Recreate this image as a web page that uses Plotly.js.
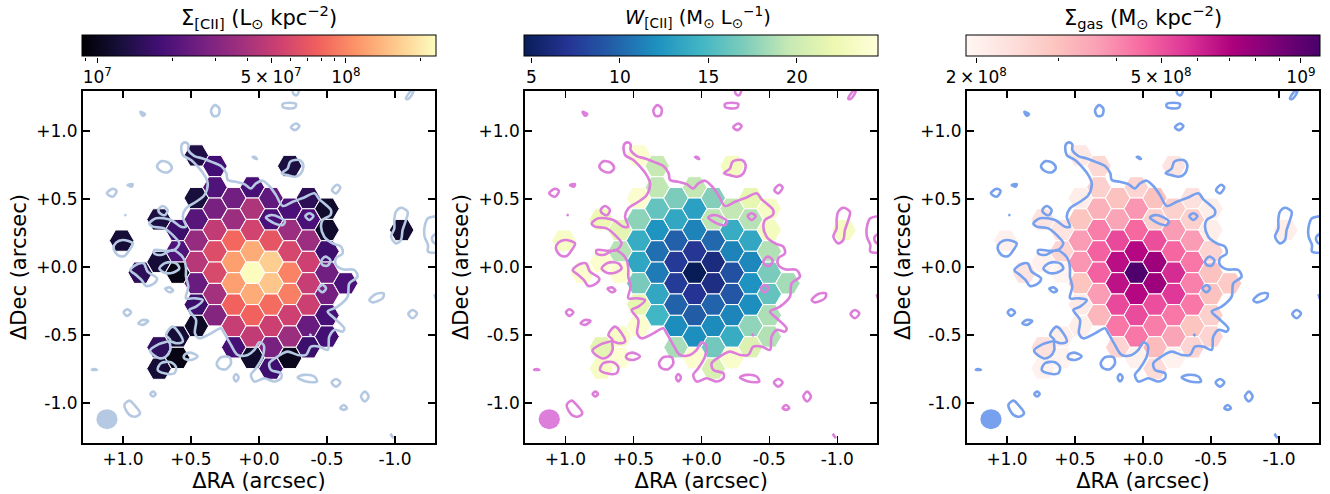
<!DOCTYPE html>
<html>
<head>
<meta charset="utf-8">
<script src="https://cdn.plot.ly/plotly-3.0.1.min.js"></script>
<style>html,body{margin:0;padding:0;background:#fff}</style>
</head>
<body>
<div id="chart" style="width:1330px;height:494px"></div>
<script>
// Hexagonal cell centres (arcsec)
const cellRA = [1.010,0.873,
 0.735,0.735,0.735,0.735,
 0.598,0.598,0.598,0.598,0.598,
 0.461,0.461,0.461,0.461,0.461,0.461,0.461,0.461,
 0.324,0.324,0.324,0.324,0.324,0.324,0.324,0.324,
 0.186,0.186,0.186,0.186,0.186,0.186,0.186,0.186,
 0.049,0.049,0.049,0.049,0.049,0.049,0.049,0.049,0.049,
 -0.088,-0.088,-0.088,-0.088,-0.088,-0.088,-0.088,-0.088,-0.088,
 -0.226,-0.226,-0.226,-0.226,-0.226,-0.226,-0.226,-0.226,-0.226,
 -0.363,-0.363,-0.363,-0.363,-0.363,-0.363,-0.363,-0.363,
 -0.500,-0.500,-0.500,-0.500,-0.500,-0.500,-0.500,
 -0.637,-1.049];
const cellDec = [0.194,-0.042,
 0.350,0.037,-0.591,-0.748,
 0.272,0.115,-0.042,-0.512,-0.669,
 0.821,0.507,0.350,0.194,0.037,-0.120,-0.277,-0.434,
 0.743,0.586,0.429,0.272,0.115,-0.042,-0.199,-0.355,
 0.507,0.350,0.194,0.037,-0.120,-0.277,-0.434,-0.591,
 0.586,0.429,0.272,0.115,-0.042,-0.199,-0.355,-0.512,-0.669,
 0.507,0.350,0.194,0.037,-0.120,-0.277,-0.434,-0.591,-0.748,
 0.743,0.429,0.272,0.115,-0.042,-0.199,-0.355,-0.512,-0.669,
 0.507,0.350,0.194,0.037,-0.120,-0.277,-0.434,-0.591,
 0.429,0.272,0.115,-0.042,-0.199,-0.355,-0.512,
 -0.120,0.272];
// Sigma_[CII] (Lsun/kpc2)
const sigmaCII = [1.2e7,1.47e7,
 1.29e7,1.2e7,1.52e7,1.2e7,
 1.67e7,1.97e7,9.6e6,1.2e7,9.6e6,
 1.33e7,1.25e7,2.1e7,3.45e7,4.47e7,2.4e7,1.67e7,1.09e7,
 1.78e7,1.97e7,2.73e7,4.9e7,6.2e7,6.0e7,3.9e7,3.0e7,
 2.56e7,3.67e7,8.1e7,1.18e8,1.18e8,7.8e7,5.1e7,1.84e7,
 1.84e7,4.19e7,5.6e7,1.3e8,2.28e8,1.3e8,7.8e7,4.9e7,1.13e7,
 2.25e7,1.9e7,6.85e7,1.65e8,1.55e8,8.4e7,5.3e7,2.73e7,1.73e7,
 1.29e7,1.9e7,3.67e7,5.8e7,9.8e7,9.5e7,5.4e7,3.67e7,1.02e7,
 1.47e7,1.9e7,3.67e7,5.4e7,5.1e7,5.3e7,2.4e7,1.67e7,
 1.13e7,1.13e7,1.73e7,2.56e7,2.65e7,1.84e7,1.78e7,
 1.9e7,1.16e7];
// W_[CII] (Msun/Lsun)
const wCII = [23.5,24,
 22.3,24,21.5,23.5,
 21.5,19,24,23.5,24.3,
 24,24,17.6,13.9,13.5,16.8,21.7,24,
 19.6,19.4,16,12.3,10.5,11,13.6,14.6,
 17,13.6,9.7,7.4,7.6,9.8,11.9,18.5,
 19.5,13.1,11.4,7.2,4.6,7.1,9.5,12,24,
 17.3,19.3,10.1,6.2,6.4,9.9,11.8,16.6,20.8,
 23,19.5,13.9,11.4,8.8,9.1,11.5,13.9,23.8,
 21.7,19,13.6,11.6,12.2,12,17.7,21,
 23.4,23,18.9,16.9,16,18.7,18.9,
 18.4,23.3];
// Sigma_gas (Msun/kpc2)
const sigmaGas = [2.03e8,2.28e8,
 2.28e8,2.0e8,2.35e8,2.0e8,
 2.28e8,2.56e8,1.95e8,2.07e8,1.97e8,
 2.2e8,2.1e8,2.95e8,3.7e8,3.8e8,2.95e8,2.15e8,2.07e8,
 2.5e8,2.7e8,3.3e8,4.2e8,4.7e8,4.7e8,3.7e8,3.2e8,
 3.0e8,3.55e8,5.2e8,6.7e8,6.6e8,5.2e8,4.3e8,2.6e8,
 2.6e8,3.8e8,4.57e8,6.9e8,1.07e9,6.9e8,5.15e8,4.3e8,2.03e8,
 3.0e8,2.7e8,5.07e8,7.6e8,7.6e8,5.1e8,4.2e8,3.1e8,2.45e8,
 2.28e8,2.7e8,3.7e8,4.6e8,5.9e8,5.6e8,4.3e8,3.55e8,2.0e8,
 2.35e8,2.7e8,3.7e8,4.3e8,4.15e8,4.3e8,2.95e8,2.6e8,
 2.07e8,2.07e8,2.6e8,3.0e8,3.0e8,2.7e8,2.6e8,
 2.8e8,2.07e8];
// Contour of the [CII] line emission, loops separated by null
const contourRA = [
 0.569,0.544,0.520,0.520,0.475,0.414,0.353,0.279,0.240,0.230,0.169,0.108,0.059,0.022,-0.027,-0.076,-0.125,-0.174,-0.248,-0.333,-0.407,-0.444,-0.493,-0.529,-0.525,-0.468,-0.456,-0.480,-0.542,-0.603,-0.615,-0.566,-0.566,-0.615,-0.701,-0.725,-0.664,-0.652,-0.578,-0.505,-0.554,-0.627,-0.615,-0.554,-0.517,-0.505,-0.444,-0.382,-0.346,-0.284,-0.211,-0.137,-0.076,-0.088,-0.162,-0.162,-0.113,-0.039,0.034,0.059,0.022,-0.027,-0.034,-0.002,0.034,0.083,0.157,0.206,0.255,0.279,0.353,0.439,0.471,0.463,0.512,0.463,0.414,0.475,0.537,0.520,0.537,0.537,0.549,0.574,0.635,0.721,0.770,0.770,0.684,0.623,0.586,0.623,0.696,0.782,0.806,0.757,0.647,0.574,0.537,0.561,0.537,0.463,0.402,0.377,0.402,0.439,0.500,0.561,0.569,null,
 0.873,0.838,0.855,0.873,null,
 0.324,0.292,0.299,0.333,0.353,0.324,null,
 -0.174,-0.223,-0.272,-0.265,-0.211,-0.174,-0.174,null,
 -0.243,-0.255,-0.279,-0.301,null,
 -1.081,-1.105,-1.142,-1.123,-1.093,-1.081,null,
 -0.235,-0.272,-0.297,-0.265,-0.235,null,
 0.750,0.716,0.659,0.642,0.672,0.725,0.750,null,
 0.966,0.929,0.936,0.966,null,
 1.118,1.076,1.047,1.076,1.118,null,
 -0.537,-0.574,-0.598,-0.566,-0.537,null,
 0.990,0.975,null,
 0.047,0.015,0.030,0.047,null,
 -0.167,-0.211,-0.230,-0.297,-0.326,-0.309,-0.265,-0.211,-0.167,null,
 0.740,0.708,0.672,0.691,0.721,0.740,null,
 -0.341,-0.370,-0.400,-0.370,-0.341,null,
 -0.051,-0.088,-0.150,-0.191,-0.174,-0.113,-0.051,null,
 -0.995,-1.007,-1.044,-1.093,-1.081,-1.056,-1.044,-1.007,-0.971,-0.995,-0.995,null,
 -1.316,-1.243,-1.218,-1.218,-1.243,-1.243,-1.316,null,
 -1.316,-1.275,-1.279,-1.316,null,
 1.069,1.051,1.002,0.929,0.953,0.990,1.039,1.069,null,
 0.946,0.892,0.848,0.819,0.750,0.770,0.831,0.863,0.904,0.946,null,
 0.733,0.684,0.610,0.586,0.635,0.696,0.733,null,
 -0.456,-0.485,-0.525,-0.505,-0.468,-0.456,null,
 0.689,0.659,0.632,0.659,0.689,null,
 -0.436,-0.468,-0.493,-0.468,-0.436,null,
 -0.811,-0.860,-0.917,-0.909,-0.836,-0.811,null,
 0.995,0.971,0.941,0.971,0.995,null,
 0.887,0.855,0.814,0.855,0.887,null,
 -1.098,-1.130,-1.162,-1.130,-1.098,null,
 0.801,0.733,0.652,0.684,0.635,0.586,0.561,0.610,0.652,0.652,0.684,0.733,0.801,null,
 0.549,0.505,0.451,0.500,0.549,0.549,null,
 0.745,0.721,0.647,0.610,0.623,0.696,0.745,null,
 0.311,0.279,0.218,0.206,0.243,0.292,0.311,null,
 0.186,0.169,0.150,0.169,0.186,null,
 -0.284,-0.333,-0.407,-0.426,-0.346,-0.284,null,
 -0.534,-0.566,-0.598,-0.566,-0.534,null,
 -0.750,-0.779,-0.806,-0.779,-0.750,null,
 -0.598,-0.623,-0.647,-0.623,-0.598,null,
 1.230,1.191,1.210,1.230,null,
 0.799,0.779,0.760,0.779,0.799,null,
 0.990,0.953,0.917,0.875,0.904,0.953,0.990,null,
 -0.966,-0.990,-0.975,-0.966,null,
 -0.370,-0.387,null,
 -1.290,-1.300
];
const contourDec = [
 0.897,0.917,0.902,0.860,0.816,0.799,0.775,0.743,0.689,0.640,0.627,0.610,0.578,0.615,0.635,0.596,0.529,0.449,0.480,0.512,0.542,0.498,0.456,0.419,0.382,0.346,0.297,0.223,0.174,0.150,0.100,0.064,0.015,-0.017,-0.022,-0.071,-0.120,-0.218,-0.292,-0.328,-0.377,-0.451,-0.475,-0.463,-0.512,-0.610,-0.586,-0.586,-0.647,-0.647,-0.623,-0.659,-0.708,-0.757,-0.782,-0.819,-0.843,-0.819,-0.843,-0.794,-0.745,-0.659,-0.574,-0.554,-0.610,-0.647,-0.647,-0.574,-0.488,-0.451,-0.488,-0.525,-0.488,-0.390,-0.316,-0.292,-0.243,-0.230,-0.230,-0.145,-0.071,-0.010,0.051,0.088,0.125,0.088,0.100,0.125,0.120,0.125,0.174,0.223,0.284,0.297,0.321,0.358,0.346,0.297,0.297,0.370,0.431,0.480,0.529,0.615,0.676,0.725,0.787,0.824,0.897,null,
 1.142,1.125,1.113,1.142,null,
 1.191,1.167,1.118,1.110,1.150,1.191,null,
 1.199,1.208,1.199,1.174,1.167,1.179,1.199,null,
 1.320,1.272,1.265,1.320,null,
 1.240,1.282,1.320,1.265,1.235,1.240,null,
 1.027,1.056,1.037,1.007,1.027,null,
 0.743,0.779,0.762,0.725,0.696,0.708,0.743,null,
 0.603,0.610,0.591,0.603,null,
 0.542,0.576,0.559,0.517,0.542,null,
 0.566,0.605,0.586,0.542,0.566,null,
 0.385,0.380,null,
 0.809,0.794,0.810,0.809,null,
 0.689,0.725,0.775,0.787,0.750,0.689,0.664,0.676,0.689,null,
 0.419,0.449,0.419,0.382,0.390,0.419,null,
 0.375,0.395,0.375,0.346,0.375,null,
 0.365,0.382,0.365,0.333,0.309,0.321,0.365,null,
 0.346,0.407,0.436,0.407,0.346,0.272,0.199,0.174,0.223,0.284,0.346,null,
 0.375,0.358,0.297,0.223,0.162,0.113,0.105,null,
 0.252,0.223,0.186,0.162,null,
 0.137,0.179,0.199,0.174,0.125,0.081,0.088,0.137,null,
 -0.022,0.022,0.027,-0.034,-0.083,-0.120,-0.140,-0.096,-0.059,-0.022,null,
 -0.010,0.032,0.027,-0.010,-0.042,-0.042,-0.010,null,
 0.039,0.076,0.051,0.010,0.015,0.039,null,
 -0.159,-0.150,-0.174,-0.186,-0.159,null,
 -0.157,-0.132,-0.157,-0.186,-0.157,null,
 -0.243,-0.199,-0.194,-0.230,-0.260,-0.243,null,
 -0.333,-0.311,-0.333,-0.360,-0.333,null,
 -0.414,-0.390,-0.397,-0.426,-0.414,null,
 -0.346,-0.316,-0.341,-0.377,-0.346,null,
 -0.615,-0.566,-0.537,-0.500,-0.439,-0.488,-0.549,-0.561,-0.549,-0.610,-0.659,-0.672,-0.615,null,
 -0.647,-0.630,-0.659,-0.684,-0.672,-0.647,null,
 -0.757,-0.708,-0.701,-0.738,-0.782,-0.782,-0.757,null,
 -0.708,-0.664,-0.664,-0.708,-0.752,-0.745,-0.708,null,
 -0.814,-0.787,-0.814,-0.843,-0.814,null,
 -0.811,-0.794,-0.806,-0.843,-0.843,-0.811,null,
 -0.850,-0.824,-0.850,-0.880,-0.850,null,
 -0.953,-0.917,-0.953,-0.990,-0.953,null,
 -1.039,-1.015,-1.039,-1.051,-1.039,null,
 -0.757,-0.757,-0.750,-0.757,null,
 -0.934,-0.917,-0.934,-0.953,-0.934,null,
 -1.015,-0.983,-1.015,-1.076,-1.100,-1.088,-1.015,null,
 -1.228,-1.260,-1.240,-1.228,null,
 -0.493,-0.507,null,
 -0.200,-0.235
];
// Axis ticks
const posTicks = [1,0.5,0,-0.5,-1];
const raLabels = ['+1.0','+0.5','+0.0','-0.5','-1.0'];
const decLabels = ['+1.0','+0.5','+0.0','-0.5','-1.0'];
// Colour bar ticks
const cb1Ticks = [1e7,5e7,1e8];
const cb1Labels = ['10<sup>7</sup>','5\u2009×\u200910<sup>7</sup>','10<sup>8</sup>'];
const cb1Minor = [9e6,2e7,3e7,4e7,6e7,7e7,8e7,9e7,2e8];
const cb2Ticks = [5,10,15,20];
const cb2Labels = ['5','10','15','20'];
const cb3Ticks = [2e8,5e8,1e9];
const cb3Labels = ['2\u2009×\u200910<sup>8</sup>','5\u2009×\u200910<sup>8</sup>','10<sup>9</sup>'];
const cb3Minor = [3e8,4e8,6e8,7e8,8e8,9e8];
// Colour scales
const magma = [[0,'#000004'],[0.111,'#180f3d'],[0.222,'#440f76'],[0.333,'#721f81'],[0.444,'#9e2f7f'],[0.556,'#cd4071'],[0.667,'#f1605d'],[0.778,'#fd9668'],[0.889,'#feca8d'],[1,'#fcfdbf']];
const ylgnbuR = [[0,'#081d58'],[0.125,'#253494'],[0.25,'#225ea8'],[0.375,'#1d91c0'],[0.5,'#41b6c4'],[0.625,'#7fcdbb'],[0.75,'#c7e9b4'],[0.875,'#edf8b1'],[1,'#ffffd9']];
const rdpu = [[0,'#fff7f3'],[0.125,'#fde0dd'],[0.25,'#fcc5c0'],[0.375,'#fa9fb5'],[0.5,'#f768a1'],[0.625,'#dd3497'],[0.75,'#ae017e'],[0.875,'#7a0177'],[1,'#49006a']];
const titles = ['Σ<sub>[CII]</sub> (L<sub>⊙</sub> kpc<sup>−2</sup>)','<i>W</i><sub>[CII]</sub> (M<sub>⊙</sub> L<sub>⊙</sub><sup>−1</sup>)','Σ<sub>gas</sub> (M<sub>⊙</sub> kpc<sup>−2</sup>)'];
const titleCentres = [258.5,698.5,1143];
const titleSizes = [21,19.5,21];
const contourColors = ['#b6c9e2','#de7edb','#77a1ee'];

const W = 1330, H = 494, FONT = 'DejaVu Sans';
const cbLeft = [82,524.3,966], cbWidth = 354;
const panelLeft = [82.9,525.2,966.9], panelWidth = 352.2;
const plotTop = 91, plotBot = 443, cbTop = 36, cbBot = 57;
const posLimit = 1.295;
const cRanges = [[6.9385,8.362],[4.6,24.6],[8.2789,9.041]];
const colorVals = [sigmaCII.map(Math.log10), wCII, sigmaGas.map(Math.log10)];
const scales = [magma,ylgnbuR,rdpu];
const cbAxes = [
 {type:'log',tickvals:cb1Ticks,ticktext:cb1Labels,minor:{tickmode:'array',tickvals:cb1Minor,ticks:'outside',ticklen:3,tickwidth:1,tickcolor:'#000'}},
 {type:'linear',tickvals:cb2Ticks,ticktext:cb2Labels},
 {type:'log',tickvals:cb3Ticks,ticktext:cb3Labels,minor:{tickmode:'array',tickvals:cb3Minor,ticks:'outside',ticklen:3,tickwidth:1,tickcolor:'#000'}}
];

const traces = [], layout = {
  width:W,height:H,margin:{l:0,r:0,t:0,b:0},paper_bgcolor:'#fff',plot_bgcolor:'#fff',
  font:{family:FONT,color:'#000',size:15},showlegend:false,shapes:[],annotations:[]
};
for (let i=0;i<3;i++){
  const n = i+1, xa = 'x'+n, ya = 'y'+n;
  const d0 = panelLeft[i]/W, d1 = (panelLeft[i]+panelWidth)/W;
  const c0 = cbLeft[i]/W, c1 = (cbLeft[i]+cbWidth)/W;
  traces.push({type:'scatter',mode:'markers',x:cellRA,y:cellDec,xaxis:xa,yaxis:ya,hoverinfo:'skip',
    marker:{symbol:'hexagon2',size:24.6,color:colorVals[i],colorscale:scales[i],cmin:cRanges[i][0],cmax:cRanges[i][1],
      line:{color:'#fff',width:1},
      showscale:true,
      colorbar:{orientation:'h',x:c0,xanchor:'left',y:1-cbBot/H,yanchor:'bottom',len:cbWidth,lenmode:'pixels',thickness:cbBot-cbTop,thicknessmode:'pixels',
        xpad:0,ypad:0,ticks:'',showticklabels:false,outlinecolor:'#000',outlinewidth:1,borderwidth:0}}});
  traces.push({type:'scatter',mode:'lines',x:contourRA,y:contourDec,xaxis:xa,yaxis:ya,hoverinfo:'skip',
    line:{color:contourColors[i],width:2.6,shape:'spline',smoothing:0.9}});
  layout['xaxis'+n] = {domain:[d0,d1],range:[posLimit,-posLimit],tickmode:'array',tickvals:posTicks,ticktext:raLabels,ticks:'inside',ticklen:7,tickwidth:1.5,tickcolor:'#000',
    showline:true,linecolor:'#000',linewidth:2,mirror:'ticks',showgrid:false,zeroline:false,tickfont:{family:FONT,size:17,color:'#000'},
    title:{text:'ΔRA (arcsec)',font:{family:FONT,size:21,color:'#000'},standoff:3},anchor:ya};
  layout['yaxis'+n] = {domain:[1-plotBot/H,1-plotTop/H],range:[-posLimit,posLimit],tickmode:'array',tickvals:posTicks,ticktext:decLabels,ticks:'inside',ticklen:7,tickwidth:1.5,tickcolor:'#000',
    showline:true,linecolor:'#000',linewidth:2,mirror:'ticks',showgrid:false,zeroline:false,tickfont:{family:FONT,size:17,color:'#000'},
    title:{text:'ΔDec (arcsec)',font:{family:FONT,size:21,color:'#000'},standoff:4},anchor:xa};
  // beam
  layout.shapes.push({type:'circle',xref:xa,yref:ya,x0:1.196,x1:1.040,y0:-1.194,y1:-1.046,fillcolor:contourColors[i],line:{width:0},layer:'above'});
  // colour bar axis (ticks and labels under the bar)
  const m = i+4, cxa='x'+m, cya='y'+m;
  const cb = cbAxes[i];
  traces.push({type:'scatter',mode:'markers',x:cb.tickvals,y:cb.tickvals.map(()=>0.5),xaxis:cxa,yaxis:cya,hoverinfo:'skip',marker:{opacity:0,size:1}});
  layout['xaxis'+m] = Object.assign({domain:[c0,c1],range:cRanges[i],tickmode:'array',ticks:'outside',ticklen:5,tickwidth:1,tickcolor:'#000',
    showgrid:false,zeroline:false,showline:false,tickfont:{family:FONT,size:17,color:'#000'},anchor:cya,fixedrange:true},cb);
  layout['yaxis'+m] = {domain:[1-cbBot/H,1-cbTop/H],range:[0,1],visible:false,anchor:cxa,fixedrange:true};
  layout.annotations.push({xref:'paper',yref:'paper',x:titleCentres[i]/W,y:1-17/H,xanchor:'center',yanchor:'middle',showarrow:false,text:titles[i],font:{family:FONT,size:titleSizes[i],color:'#000'}});
}
Plotly.newPlot('chart',traces,layout,{displayModeBar:false,staticPlot:true});
</script>
</body>
</html>
